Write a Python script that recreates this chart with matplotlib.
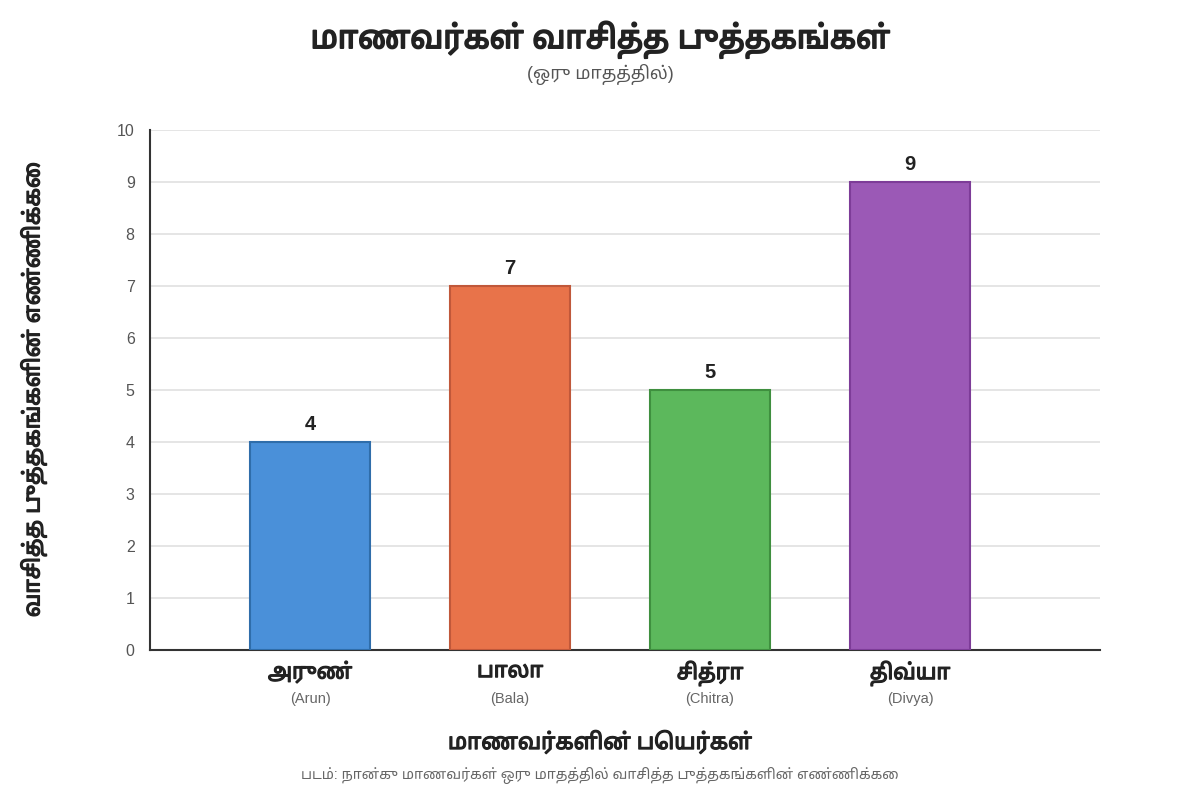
import numpy as np
import matplotlib
matplotlib.use('Agg')
import matplotlib.pyplot as plt
import matplotlib.patheffects as pe

plt.rcParams['font.family'] = ['Liberation Sans', 'Noto Sans Tamil', 'DejaVu Sans']

# data
names_ta = ['அருண்', 'பாலா', 'சித்ரா', 'திவ்யா']
names_en = ['(Arun)', '(Bala)', '(Chitra)', '(Divya)']
books = [4, 7, 5, 9]
colors = ['#4A90D9', '#E8734A', '#5CB85C', '#9B59B6']
edges = ['#2F6DAA', '#C0583A', '#3F8F3F', '#7D3C98']

title = 'மாணவர்கள் வாசித்த புத்தகங்கள்'
subtitle = '(ஒரு மாதத்தில்)'
ylabel = 'வாசித்த புத்தகங்களின் எண்ணிக்கை'
xlabel = 'மாணவர்களின் பெயர்கள்'
caption = 'படம்: நான்கு மாணவர்கள் ஒரு மாதத்தில் வாசித்த புத்தகங்களின் எண்ணிக்கை'

# Noto Sans Tamil has no static bold here, so thicken it with a stroke
def heavy(lw):
    return [pe.withStroke(linewidth=lw, foreground='#222222')]

fig = plt.figure(figsize=(12, 8), dpi=100)
ax = fig.add_axes([0.125, 0.1875, 0.7917, 0.65])

x = np.arange(len(books))
rects = ax.bar(x, books, width=0.6, color=colors, edgecolor=edges, linewidth=1.5, zorder=3)
for r, v in zip(rects, books):
    ax.annotate(str(v), (r.get_x() + r.get_width() / 2, v), xytext=(0, 6),
                textcoords='offset points', ha='center', va='bottom',
                fontsize=14.5, fontweight='bold', color='#222222')

ax.set_xlim(-0.8, 3.95)
ax.set_ylim(0, 10)
ax.set_yticks(np.arange(0, 11, 1))
ax.tick_params(axis='y', length=0, pad=11, labelsize=11.5, labelcolor='#555555')
ax.tick_params(axis='x', length=0)
ax.set_xticks(x)
ax.set_xticklabels([''] * len(x))
ax.grid(axis='y', color='#e0e0e0', linewidth=1.2, zorder=0)
ax.set_axisbelow(True)
for s in ['top', 'right']:
    ax.spines[s].set_visible(False)
for s in ['left', 'bottom']:
    ax.spines[s].set_color('#333333')
    ax.spines[s].set_linewidth(1.5)

# name labels under bars
for xi, ta, en in zip(x, names_ta, names_en):
    ax.annotate(ta, (xi, 0), xycoords=('data', 'axes fraction'), xytext=(0, -8),
                textcoords='offset points', ha='center', va='top',
                fontsize=15.5, color='#222222', path_effects=heavy(0.9))
    ax.annotate(en, (xi, 0), xycoords=('data', 'axes fraction'), xytext=(0, -30),
                textcoords='offset points', ha='center', va='top',
                fontsize=10.5, color='#666666')

fig.text(0.5, 0.95, title, ha='center', va='center', fontsize=22.8,
         color='#222222', path_effects=heavy(1.3))
fig.text(0.5, 0.907, subtitle, ha='center', va='center', fontsize=12.7, color='#555555')
fig.text(0.5, 0.072, xlabel, ha='center', va='center', fontsize=16,
         color='#222222', path_effects=heavy(0.9))
fig.text(0.5, 0.031, caption, ha='center', va='center', fontsize=10.2, color='#666666')
fig.text(0.028, 0.5125, ylabel, ha='center', va='center', rotation=90,
         fontsize=16.2, color='#222222', path_effects=heavy(0.9))

fig.savefig('out.png', dpi=100, facecolor='white')
